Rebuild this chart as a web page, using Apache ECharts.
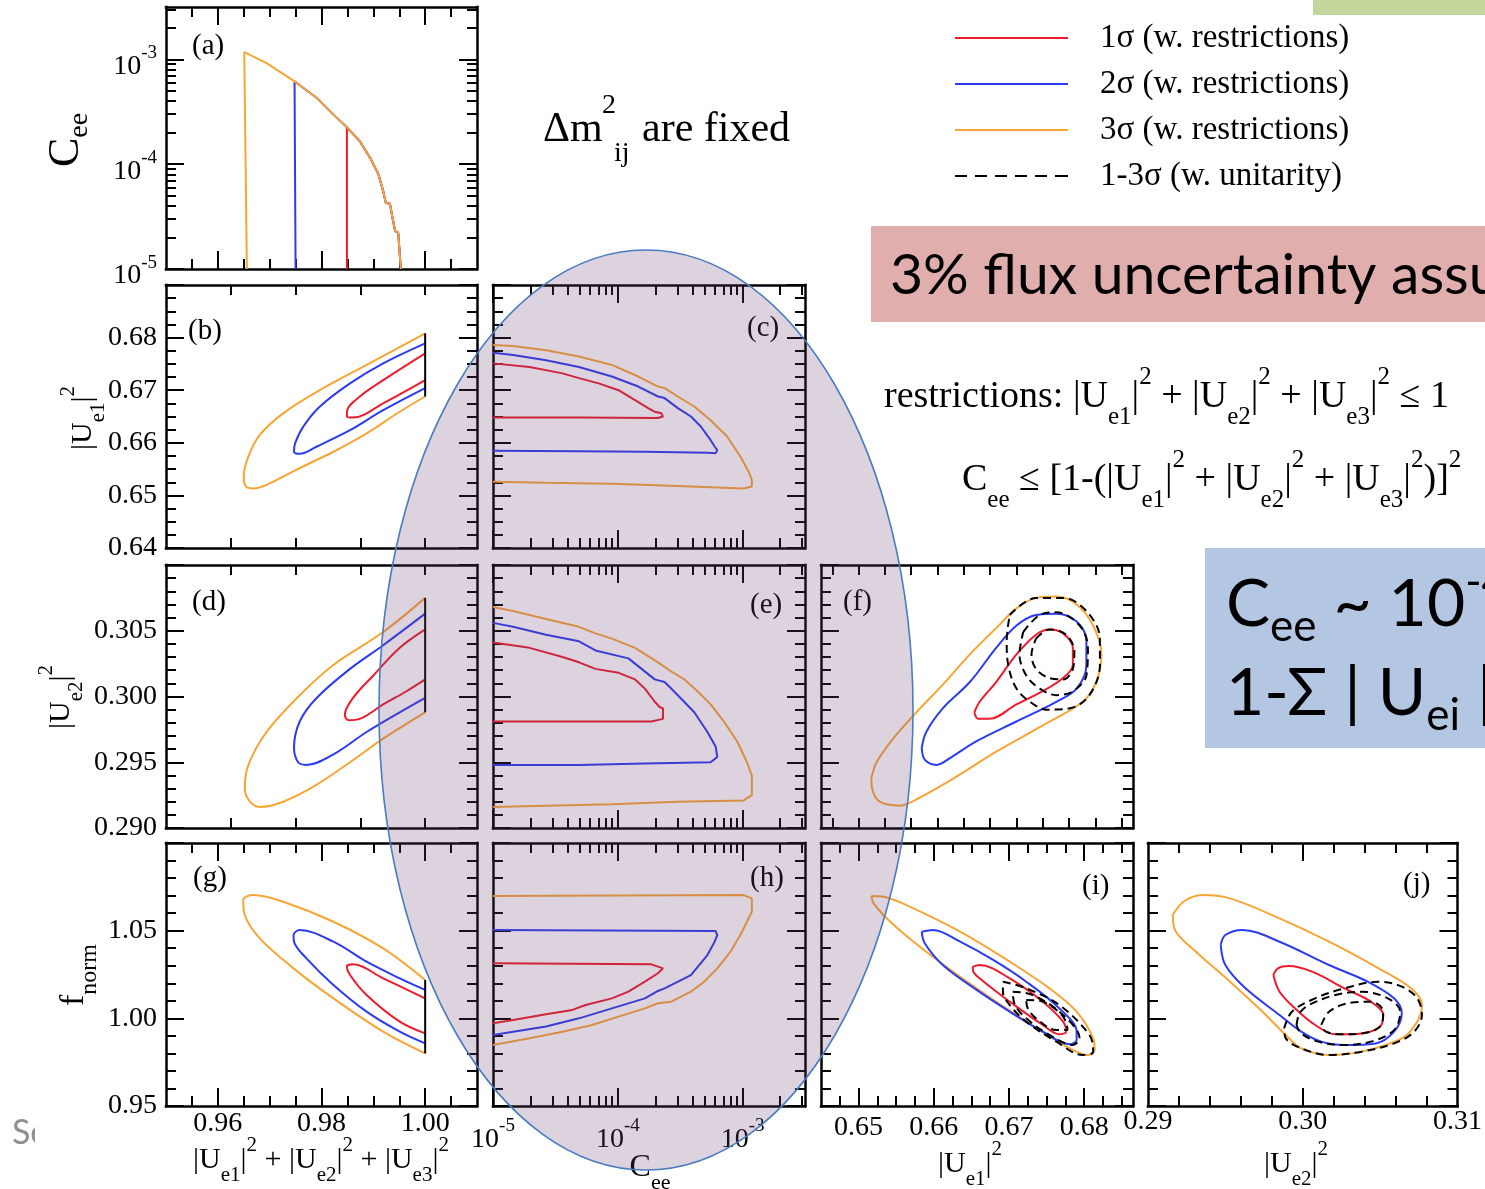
<!DOCTYPE html>
<html>
<head>
<meta charset="utf-8">
<script src="https://cdn.jsdelivr.net/npm/echarts@6/dist/echarts.min.js"></script>
<style>
  html, body { margin: 0; padding: 0; background: #ffffff; }
  #chart { width: 1485px; height: 1189px; }
</style>
</head>
<body>
<div id="chart"></div>
<script>
// ---------------------------------------------------------------------------
// Contour data. C_ee is stored as log10(C_ee); the C_ee axes are log scaled.
// ---------------------------------------------------------------------------

// (a) upper limit of C_ee versus |Ue1|^2+|Ue2|^2+|Ue3|^2
const a_orange = [[0.9656,-5.000],[0.9651,-2.930],[0.9694,-3.035],[0.9746,-3.203],[0.9791,-3.368],[0.9823,-3.527],[0.9849,-3.648],[0.9874,-3.781],[0.9894,-3.940],[0.9910,-4.098],[0.9919,-4.257],[0.9924,-4.369],[0.9932,-4.378],[0.9937,-4.511],[0.9942,-4.638],[0.9948,-4.654],[0.9951,-4.670],[0.9953,-5.000]];
const a_blue = [[0.9750,-5.000],[0.9748,-3.210],[0.9791,-3.368],[0.9823,-3.527],[0.9849,-3.648],[0.9874,-3.781],[0.9894,-3.940],[0.9910,-4.098],[0.9919,-4.257],[0.9924,-4.369],[0.9932,-4.378],[0.9937,-4.511],[0.9942,-4.638],[0.9948,-4.654],[0.9951,-4.670],[0.9953,-5.000]];
const a_red = [[0.9849,-5.000],[0.9849,-3.648],[0.9874,-3.781],[0.9894,-3.940],[0.9910,-4.098],[0.9919,-4.257],[0.9924,-4.369],[0.9932,-4.378],[0.9937,-4.511],[0.9942,-4.638],[0.9948,-4.654],[0.9951,-4.670],[0.9953,-5.000]];

// (b) |Ue1|^2 versus the row sum
const b_orange = [[1.000,0.6808],[0.9887,0.6748],[0.9791,0.6697],[0.9726,0.6656],[0.9681,0.6615],[0.9659,0.6574],[0.9650,0.6536],[0.9654,0.6517],[0.9668,0.6513],[0.9694,0.6520],[0.9758,0.6552],[0.9823,0.6583],[0.9887,0.6618],[0.9951,0.6659],[1.000,0.6688]];
const b_blue = [[1.000,0.6789],[0.9919,0.6751],[0.9855,0.6713],[0.9797,0.6669],[0.9765,0.6631],[0.9749,0.6599],[0.9747,0.6583],[0.9758,0.6579],[0.9791,0.6593],[0.9855,0.6624],[0.9919,0.6662],[1.000,0.6704]];
const b_red = [[1.000,0.6770],[0.9919,0.6719],[0.9874,0.6688],[0.9849,0.6659],[0.9849,0.6650],[0.9861,0.6648],[0.9919,0.6675],[1.000,0.6719]];
const b_edge = [[1.000,0.6688],[1.000,0.6808]];

// (c) |Ue1|^2 versus log10 C_ee
const c_orange = [[-5.0,0.6786],[-4.839,0.6784],[-4.575,0.6776],[-4.311,0.6764],[-4.047,0.6748],[-3.836,0.6726],[-3.678,0.6707],[-3.625,0.6704],[-3.519,0.6688],[-3.387,0.6669],[-3.256,0.6643],[-3.124,0.6612],[-3.018,0.6574],[-2.952,0.6545],[-2.926,0.6529],[-2.926,0.6517],[-2.992,0.6513],[-3.519,0.6518],[-4.047,0.6522],[-4.575,0.6524],[-5.0,0.6526]];
const c_blue = [[-5.0,0.6771],[-4.839,0.6767],[-4.575,0.6757],[-4.311,0.6744],[-4.047,0.6726],[-3.836,0.6707],[-3.678,0.6688],[-3.625,0.6685],[-3.519,0.6666],[-3.414,0.6650],[-3.335,0.6631],[-3.256,0.6605],[-3.224,0.6593],[-3.203,0.6586],[-3.216,0.6580],[-3.282,0.6581],[-3.783,0.6583],[-4.311,0.6584],[-5.0,0.6585]];
const c_red = [[-5.0,0.6751],[-4.707,0.6744],[-4.443,0.6732],[-4.311,0.6723],[-4.153,0.6713],[-3.994,0.6700],[-3.862,0.6681],[-3.757,0.6666],[-3.704,0.6659],[-3.651,0.6656],[-3.638,0.6650],[-3.678,0.6647],[-4.311,0.6648],[-5.0,0.6648]];

// (d) |Ue2|^2 versus the row sum
const d_orange = [[1.000,0.3075],[0.9919,0.3049],[0.9823,0.3024],[0.9758,0.3001],[0.9694,0.2973],[0.9659,0.2948],[0.9652,0.2930],[0.9662,0.2920],[0.9681,0.2916],[0.9726,0.2920],[0.9791,0.2933],[0.9855,0.2950],[0.9919,0.2968],[1.000,0.2988]];
const d_blue = [[1.000,0.3063],[0.9919,0.3039],[0.9855,0.3021],[0.9791,0.2999],[0.9758,0.2981],[0.9747,0.2961],[0.9755,0.2950],[0.9771,0.2948],[0.9823,0.2956],[0.9887,0.2973],[0.9951,0.2988],[1.000,0.2999]];
const d_red = [[1.000,0.3051],[0.9951,0.3037],[0.9900,0.3016],[0.9861,0.2999],[0.9845,0.2986],[0.9852,0.2982],[0.9874,0.2983],[0.9919,0.2994],[0.9964,0.3004],[1.000,0.3013]];
const d_edge = [[1.000,0.2988],[1.000,0.3075]];

// (e) |Ue2|^2 versus log10 C_ee
const e_orange = [[-5.0,0.3068],[-4.839,0.3065],[-4.575,0.3059],[-4.311,0.3053],[-4.179,0.3048],[-4.047,0.3044],[-3.862,0.3037],[-3.678,0.3026],[-3.572,0.3019],[-3.466,0.3013],[-3.361,0.3004],[-3.256,0.2994],[-3.150,0.2981],[-3.044,0.2966],[-2.965,0.2950],[-2.926,0.2940],[-2.926,0.2925],[-2.992,0.2921],[-3.519,0.2920],[-4.047,0.2918],[-4.575,0.2917],[-5.0,0.2916]];
const e_blue = [[-5.0,0.3056],[-4.839,0.3053],[-4.575,0.3047],[-4.311,0.3042],[-4.179,0.3035],[-3.915,0.3029],[-3.704,0.3013],[-3.625,0.3011],[-3.519,0.3001],[-3.387,0.2988],[-3.282,0.2973],[-3.216,0.2962],[-3.203,0.2954],[-3.256,0.2950],[-3.783,0.2949],[-4.311,0.2948],[-5.0,0.2948]];
const e_red = [[-5.0,0.3041],[-4.707,0.3037],[-4.443,0.3030],[-4.311,0.3026],[-4.179,0.3021],[-3.994,0.3018],[-3.862,0.3013],[-3.783,0.3006],[-3.704,0.2996],[-3.665,0.2992],[-3.638,0.2991],[-3.638,0.2983],[-3.731,0.2981],[-4.311,0.2981],[-5.0,0.2981]];

// (f) |Ue2|^2 versus |Ue1|^2
const f_orange = [[0.6517,0.2938],[0.6524,0.2950],[0.6546,0.2968],[0.6577,0.2988],[0.6612,0.3009],[0.6648,0.3032],[0.6683,0.3052],[0.6710,0.3067],[0.6736,0.3075],[0.6763,0.3076],[0.6790,0.3070],[0.6812,0.3054],[0.6823,0.3032],[0.6816,0.3011],[0.6798,0.2996],[0.6745,0.2978],[0.6683,0.2958],[0.6630,0.2939],[0.6581,0.2923],[0.6555,0.2917],[0.6528,0.2920],[0.6518,0.2930],[0.6517,0.2938]];
const f_blue = [[0.6584,0.2961],[0.6590,0.2973],[0.6612,0.2991],[0.6648,0.3011],[0.6683,0.3037],[0.6710,0.3054],[0.6736,0.3062],[0.6763,0.3063],[0.6790,0.3057],[0.6803,0.3042],[0.6803,0.3024],[0.6790,0.3006],[0.6763,0.2996],[0.6710,0.2981],[0.6657,0.2966],[0.6621,0.2953],[0.6604,0.2948],[0.6588,0.2952],[0.6584,0.2961]];
const f_red = [[0.6654,0.2988],[0.6661,0.2996],[0.6683,0.3011],[0.6710,0.3032],[0.6736,0.3047],[0.6754,0.3051],[0.6772,0.3048],[0.6785,0.3037],[0.6785,0.3024],[0.6772,0.3014],[0.6745,0.3004],[0.6710,0.2994],[0.6674,0.2983],[0.6659,0.2983],[0.6654,0.2988]];
const f_uni3 = [[0.6701,0.3062],[0.6736,0.3075],[0.6772,0.3075],[0.6803,0.3065],[0.6821,0.3044],[0.6821,0.3024],[0.6807,0.3001],[0.6781,0.2991],[0.6750,0.2990],[0.6728,0.2996],[0.6710,0.3006],[0.6699,0.3024],[0.6697,0.3042],[0.6701,0.3062]];
const f_uni2 = [[0.6719,0.3049],[0.6741,0.3062],[0.6763,0.3064],[0.6794,0.3054],[0.6805,0.3037],[0.6803,0.3016],[0.6785,0.3004],[0.6763,0.3001],[0.6741,0.3006],[0.6723,0.3016],[0.6714,0.3032],[0.6719,0.3049]];
const f_uni1 = [[0.6736,0.3044],[0.6754,0.3051],[0.6776,0.3047],[0.6787,0.3034],[0.6785,0.3021],[0.6772,0.3013],[0.6754,0.3014],[0.6736,0.3021],[0.6730,0.3032],[0.6736,0.3044]];

// (g) f_norm versus the row sum
const g_orange = [[1.000,1.0219],[0.9919,1.0399],[0.9823,1.0551],[0.9726,1.0665],[0.9668,1.0703],[0.9649,1.0675],[0.9652,1.0589],[0.9681,1.0456],[0.9746,1.0285],[0.9823,1.0114],[0.9919,0.9924],[1.000,0.9800]];
const g_blue = [[1.000,1.0162],[0.9951,1.0228],[0.9887,1.0323],[0.9823,1.0437],[0.9758,1.0504],[0.9746,1.0475],[0.9747,1.0437],[0.9771,1.0342],[0.9823,1.0190],[0.9887,1.0038],[0.9951,0.9924],[1.000,0.9857]];
const g_red = [[1.000,1.0114],[0.9919,1.0228],[0.9861,1.0308],[0.9849,1.0295],[0.9855,1.0247],[0.9887,1.0133],[0.9951,0.9981],[1.000,0.9914]];
const g_edge = [[1.000,0.9800],[1.000,1.0219]];

// (h) f_norm versus log10 C_ee
const h_orange = [[-5.0,1.0698],[-2.992,1.0703],[-2.926,1.0684],[-2.926,1.0608],[-2.965,1.0551],[-3.018,1.0475],[-3.097,1.0380],[-3.203,1.0285],[-3.308,1.0209],[-3.414,1.0152],[-3.572,1.0095],[-3.678,1.0086],[-3.783,1.0057],[-3.994,1.0010],[-4.206,0.9962],[-4.443,0.9924],[-4.707,0.9886],[-5.0,0.9848]];
const h_blue = [[-5.0,1.0504],[-3.216,1.0498],[-3.203,1.0475],[-3.224,1.0437],[-3.282,1.0361],[-3.414,1.0247],[-3.625,1.0171],[-3.678,1.0156],[-3.783,1.0114],[-4.047,1.0057],[-4.311,1.0000],[-4.575,0.9953],[-5.0,0.9905]];
const h_red = [[-5.0,1.0314],[-3.731,1.0308],[-3.638,1.0285],[-3.678,1.0257],[-3.783,1.0209],[-3.915,1.0152],[-4.047,1.0114],[-4.258,1.0076],[-4.364,1.0048],[-4.575,1.0023],[-4.839,0.9990],[-5.0,0.9972]];

// (i) f_norm versus |Ue1|^2
const i_orange = [[0.6517,1.0698],[0.6533,1.0694],[0.6568,1.0637],[0.6635,1.0494],[0.6701,1.0323],[0.6754,1.0171],[0.6790,1.0038],[0.6812,0.9886],[0.6814,0.9819],[0.6805,0.9791],[0.6781,0.9829],[0.6723,0.9981],[0.6657,1.0171],[0.6590,1.0380],[0.6542,1.0551],[0.6520,1.0656],[0.6517,1.0698]];
const i_blue = [[0.6584,1.0494],[0.6599,1.0504],[0.6635,1.0437],[0.6679,1.0333],[0.6723,1.0209],[0.6767,1.0057],[0.6790,0.9924],[0.6790,0.9876],[0.6781,0.9852],[0.6745,0.9924],[0.6701,1.0038],[0.6657,1.0162],[0.6612,1.0304],[0.6588,1.0428],[0.6584,1.0494]];
const i_red = [[0.6652,1.0295],[0.6661,1.0304],[0.6701,1.0228],[0.6745,1.0095],[0.6772,0.9981],[0.6776,0.9924],[0.6767,0.9909],[0.6745,0.9962],[0.6701,1.0095],[0.6661,1.0228],[0.6652,1.0276],[0.6652,1.0295]];
const i_uni3 = [[0.6692,1.0209],[0.6723,1.0171],[0.6767,1.0076],[0.6807,0.9905],[0.6812,0.9810],[0.6798,0.9791],[0.6763,0.9867],[0.6723,0.9981],[0.6701,1.0076],[0.6692,1.0152],[0.6692,1.0209]];
const i_uni2 = [[0.6705,1.0152],[0.6732,1.0133],[0.6772,1.0019],[0.6794,0.9886],[0.6785,0.9848],[0.6754,0.9905],[0.6723,1.0000],[0.6708,1.0076],[0.6705,1.0152]];
const i_uni1 = [[0.6723,1.0105],[0.6745,1.0095],[0.6772,1.0010],[0.6778,0.9933],[0.6763,0.9933],[0.6736,1.0000],[0.6725,1.0057],[0.6723,1.0105]];

// (j) f_norm versus |Ue2|^2
const j_orange = [[0.2916,1.0589],[0.2923,1.0665],[0.2935,1.0703],[0.2953,1.0684],[0.2985,1.0570],[0.3017,1.0437],[0.3049,1.0285],[0.3070,1.0171],[0.3077,1.0076],[0.3074,0.9981],[0.3064,0.9886],[0.3038,0.9810],[0.3017,0.9791],[0.2999,0.9829],[0.2989,0.9905],[0.2974,1.0038],[0.2953,1.0209],[0.2931,1.0380],[0.2918,1.0494],[0.2916,1.0589]];
const j_blue = [[0.2947,1.0418],[0.2950,1.0475],[0.2961,1.0504],[0.2985,1.0437],[0.3017,1.0304],[0.3042,1.0209],[0.3059,1.0114],[0.3064,1.0029],[0.3059,0.9924],[0.3047,0.9857],[0.3027,0.9848],[0.3012,0.9867],[0.2999,0.9924],[0.2985,1.0019],[0.2963,1.0171],[0.2950,1.0304],[0.2947,1.0418]];
const j_red = [[0.2981,1.0247],[0.2984,1.0285],[0.2991,1.0298],[0.3006,1.0266],[0.3027,1.0171],[0.3044,1.0095],[0.3052,1.0019],[0.3050,0.9953],[0.3038,0.9914],[0.3021,0.9909],[0.3008,0.9962],[0.2995,1.0057],[0.2985,1.0152],[0.2981,1.0247]];
const j_uni3 = [[0.2988,0.9943],[0.2993,1.0038],[0.3008,1.0114],[0.3027,1.0171],[0.3049,1.0209],[0.3064,1.0181],[0.3074,1.0114],[0.3077,1.0019],[0.3072,0.9924],[0.3059,0.9857],[0.3038,0.9810],[0.3017,0.9791],[0.2999,0.9829],[0.2989,0.9886],[0.2988,0.9943]];
const j_uni2 = [[0.2996,0.9962],[0.2998,1.0030],[0.3004,1.0076],[0.3021,1.0133],[0.3038,1.0152],[0.3055,1.0114],[0.3063,1.0038],[0.3059,0.9933],[0.3044,0.9867],[0.3025,0.9848],[0.3010,0.9867],[0.2999,0.9914],[0.2996,0.9962]];
const j_uni1 = [[0.3012,0.9962],[0.3017,1.0038],[0.3029,1.0086],[0.3044,1.0095],[0.3052,1.0038],[0.3050,0.9953],[0.3038,0.9914],[0.3025,0.9909],[0.3015,0.9924],[0.3012,0.9962]];

// Tick labels
const sumTicks = [0.96, 0.98, 1.00];
const ceeExpTicks = [-5, -4, -3];
const ue1TicksY = [0.64, 0.65, 0.66, 0.67, 0.68];
const ue1TicksX = [0.65, 0.66, 0.67, 0.68];
const ue2TicksY = [0.290, 0.295, 0.300, 0.305];
const ue2TicksX = [0.29, 0.30, 0.31];
const fnormTicks = [0.95, 1.00, 1.05];

// Legend names
const N1 = '1σ (w. restrictions)';
const N2 = '2σ (w. restrictions)';
const N3 = '3σ (w. restrictions)';
const NU = '1-3σ (w. unitarity)';

// ---------------------------------------------------------------------------
const SERIF = '"Liberation Serif","Times New Roman",serif';
const SANS = 'Lato,"Open Sans",sans-serif';
const RED = '#ec1c2c', BLUE = '#2b3bef', ORANGE = '#f7a535', BLACK = '#000000';

function steps(a, b, s) { const out = []; for (let v = a; v <= b + 1e-9; v += s) out.push(+v.toFixed(6)); return out; }
function without(list, skip) { return list.filter(v => !skip.some(s => Math.abs(s - v) < 1e-7)); }
const logMinor = [];
for (let e = -5; e <= -3; e++) for (let k = 2; k <= 9; k++) { const v = e + Math.log10(k); if (v < -2.5) logMinor.push(v); }

const f2 = v => v.toFixed(2), f3 = v => v.toFixed(3);
const pow10 = v => '{b|10}{s|' + v + '}';
const powRich = {
  b: { fontFamily: SERIF, fontSize: 28, lineHeight: 45, verticalAlign: 'middle', color: '#000' },
  s: { fontFamily: SERIF, fontSize: 19, lineHeight: 19, verticalAlign: 'top', color: '#000' }
};

const AX = {
  sumA: { min: 0.95, max: 1.01, major: [0.96, 0.98, 1.00], minor: without(steps(0.955, 1.005, 0.005), [0.96, 0.98, 1.0]), labels: sumTicks, fmt: f2 },
  sumB: { min: 0.95, max: 1.01, major: [], minor: [0.9625, 0.975, 0.9875, 1.0] },
  cee: { min: -5, max: -2.5, major: [-5, -4, -3], minor: logMinor, labels: ceeExpTicks, fmt: pow10 },
  ue1y: { min: 0.64, max: 0.69, major: [0.64, 0.65, 0.66, 0.67, 0.68, 0.69], minor: without(steps(0.6425, 0.6875, 0.0025), [0.65, 0.66, 0.67, 0.68]), labels: ue1TicksY, fmt: f2 },
  ue1xF: { min: 0.645, max: 0.6865, major: [], minor: steps(0.6465, 0.6850, 0.0035) },
  ue1xI: { min: 0.645, max: 0.6865, major: [0.65, 0.66, 0.67, 0.68], minor: without(steps(0.6475, 0.685, 0.0025), [0.65, 0.66, 0.67, 0.68]), labels: ue1TicksX, fmt: f2 },
  ue2y: { min: 0.29, max: 0.31, major: [0.29, 0.295, 0.30, 0.305, 0.31], minor: without(steps(0.291, 0.309, 0.001), [0.295, 0.30, 0.305]), labels: ue2TicksY, fmt: f3 },
  ue2x: { min: 0.29, max: 0.31, major: [0.30], minor: without(steps(0.292, 0.308, 0.002), [0.30]), labels: ue2TicksX, fmt: f2 },
  fn: { min: 0.95, max: 1.10, major: [0.95, 1.00, 1.05, 1.10], minor: without(steps(0.96, 1.09, 0.01), [1.0, 1.05]), labels: fnormTicks, fmt: f2 }
};

// One entry per panel: frame rectangle, axes, which axes carry labels, curves.
// 'round' marks the closed, ellipse-like contours that are drawn smoothed.
const PANELS = [
  { rect: [166, 7, 311, 262], x: AX.sumA, y: AX.cee, ly: { margin: 9, padding: [14, 0, 0, 0], rich: powRich },
    curves: [[a_red, N1, RED], [a_blue, N2, BLUE], [a_orange, N3, ORANGE]] },
  { rect: [166, 285, 311, 263], x: AX.sumB, y: AX.ue1y, ly: { margin: 9 }, round: true,
    curves: [[b_orange, N3, ORANGE], [b_blue, N2, BLUE], [b_red, N1, RED], [b_edge, 'edge', BLACK]] },
  { rect: [493, 285, 312, 263], x: AX.cee, y: AX.ue1y,
    curves: [[c_orange, N3, ORANGE], [c_blue, N2, BLUE], [c_red, N1, RED]] },
  { rect: [166, 565, 311, 263], x: AX.sumB, y: AX.ue2y, ly: { margin: 9 }, round: true,
    curves: [[d_orange, N3, ORANGE], [d_blue, N2, BLUE], [d_red, N1, RED], [d_edge, 'edge', BLACK]] },
  { rect: [493, 565, 312, 263], x: AX.cee, y: AX.ue2y,
    curves: [[e_orange, N3, ORANGE], [e_blue, N2, BLUE], [e_red, N1, RED]] },
  { rect: [821, 565, 312, 263], x: AX.ue1xF, y: AX.ue2y, round: true,
    curves: [[f_orange, N3, ORANGE], [f_blue, N2, BLUE], [f_red, N1, RED], [f_uni3, NU, BLACK, true], [f_uni2, NU, BLACK, true], [f_uni1, NU, BLACK, true]] },
  { rect: [166, 843, 311, 263], x: AX.sumA, y: AX.fn, lx: { margin: 4 }, ly: { margin: 9 }, round: true,
    curves: [[g_orange, N3, ORANGE], [g_blue, N2, BLUE], [g_red, N1, RED], [g_edge, 'edge', BLACK]] },
  { rect: [493, 843, 312, 263], x: AX.cee, y: AX.fn, lx: { margin: 11, rich: powRich },
    curves: [[h_orange, N3, ORANGE], [h_blue, N2, BLUE], [h_red, N1, RED]] },
  { rect: [821, 843, 312, 263], x: AX.ue1xI, y: AX.fn, lx: { margin: 8 }, round: true,
    curves: [[i_orange, N3, ORANGE], [i_blue, N2, BLUE], [i_red, N1, RED], [i_uni3, NU, BLACK, true], [i_uni2, NU, BLACK, true], [i_uni1, NU, BLACK, true]] },
  { rect: [1148, 843, 312, 263], x: AX.ue2x, y: AX.fn, lx: { margin: 2 }, round: true,
    curves: [[j_orange, N3, ORANGE], [j_blue, N2, BLUE], [j_red, N1, RED], [j_uni3, NU, BLACK, true], [j_uni2, NU, BLACK, true], [j_uni1, NU, BLACK, true]] }
];

// Framed major axis (with labels) plus a minor-tick axis, on both sides.
function sideAxes(gi, spec, isX, labelOpt) {
  const out = [];
  (isX ? ['bottom', 'top'] : ['left', 'right']).forEach((pos, k) => {
    const base = { type: 'value', gridIndex: gi, position: pos, min: spec.min, max: spec.max,
      splitLine: { show: false }, splitArea: { show: false }, silent: true };
    out.push(Object.assign({}, base, {
      axisLine: { show: true, onZero: false, lineStyle: { color: '#000', width: 2.5, cap: 'square' } },
      axisTick: { show: spec.major.length > 0, inside: true, length: 18, customValues: spec.major, lineStyle: { color: '#000', width: 2 } },
      axisLabel: (k === 0 && labelOpt) ? Object.assign({ show: true, customValues: spec.labels, formatter: spec.fmt,
        fontFamily: SERIF, fontSize: 28, color: '#000' }, labelOpt) : { show: false }
    }));
    out.push(Object.assign({}, base, {
      axisLine: { show: false, onZero: false },
      axisTick: { show: true, inside: true, length: 10, customValues: spec.minor, lineStyle: { color: '#000', width: 2 } },
      axisLabel: { show: false }
    }));
  });
  return out;
}

const grid = [], xAxis = [], yAxis = [], series = [];
PANELS.forEach((p, gi) => {
  grid.push({ left: p.rect[0], top: p.rect[1], width: p.rect[2], height: p.rect[3], containLabel: false, show: false });
  const xi = xAxis.length, yi = yAxis.length;
  xAxis.push(...sideAxes(gi, p.x, true, p.lx));
  yAxis.push(...sideAxes(gi, p.y, false, p.ly));
  p.curves.forEach(([data, name, color, dashed]) => {
    series.push({
      type: 'line', name, data, xAxisIndex: xi, yAxisIndex: yi,
      symbol: 'none', showSymbol: false, silent: true, color,
      itemStyle: { color },
      smooth: (p.round && name !== 'edge') ? 0.35 : false,
      lineStyle: { color, width: 2, type: dashed ? [8, 5] : 'solid' },
      z: dashed ? 4 : (name === 'edge' ? 5 : 3)
    });
  });
});

// ---------------------------------------------------------------------------
// Rich-text helper for formulae: m = main, sp = superscript, sb = subscript.
function mathRich(family, size, small, up) {
  const H = small + 2 * up;
  return {
    m: { fontFamily: family, fontSize: size, lineHeight: H, verticalAlign: 'middle', fill: '#000' },
    sp: { fontFamily: family, fontSize: small, lineHeight: small, verticalAlign: 'top', fill: '#000' },
    sb: { fontFamily: family, fontSize: small, lineHeight: small, verticalAlign: 'bottom', fill: '#000' }
  };
}
function mathText(x, y, text, rich, align, rotation) {
  return { type: 'text', x, y, rotation: rotation || 0, silent: true, z: 20,
    style: { text, rich, fill: '#000', align: align || 'center', textAlign: align || 'center', verticalAlign: 'middle', textVerticalAlign: 'middle' } };
}
function plainText(x, y, text, font, fill, align) {
  return { type: 'text', x, y, silent: true, z: 20,
    style: { text, font, fill: fill || '#000', align: align || 'left', textAlign: align || 'left', verticalAlign: 'middle', textVerticalAlign: 'middle' } };
}

const ue = k => '{m||U}{sb|e' + k + '}{m||}{sp|2}';
const rowSum = ue(1) + '{m| + }' + ue(2) + '{m| + }' + ue(3);
const R_axis = mathRich(SERIF, 30, 21, 15);
const R_cee = mathRich(SERIF, 32, 22, 15);
const R_ceeBig = mathRich(SERIF, 44, 28, 14);
const R_fn = mathRich(SERIF, 34, 24, 16);
const R_note = mathRich(SERIF, 38, 25, 20);
const R_box = mathRich(SANS, 66, 44, 22);
const ROT = Math.PI / 2;

const panelTags = [['(a)', 192, 46], ['(b)', 188, 331], ['(c)', 747, 328], ['(d)', 192, 602], ['(e)', 750, 605],
  ['(f)', 843, 602], ['(g)', 193, 878], ['(h)', 750, 878], ['(i)', 1082, 886], ['(j)', 1403, 884]];

const graphics = [
  // coloured boxes of the slide
  { type: 'rect', silent: true, z: 1, shape: { x: 1313, y: 0, width: 172, height: 15 }, style: { fill: '#c3d69b' } },
  { type: 'rect', silent: true, z: 1, shape: { x: 871, y: 226, width: 614, height: 96 }, style: { fill: '#e0afad' } },
  plainText(890, 276, '3% flux uncertainty assumed', '57px ' + SANS),
  { type: 'rect', silent: true, z: 1, shape: { x: 1205, y: 548, width: 280, height: 200 }, style: { fill: '#b4c7e2' } },
  mathText(1226, 605, '{m|C}{sb|ee}{m| ~ 10}{sp|-4}', R_box, 'left'),
  mathText(1226, 694, '{m|1-Σ | U}{sb|ei}{m| |}{sp|2}', R_box, 'left'),
  // left margin remnant
  plainText(12, 1133, 'Se', '34px ' + SANS, '#8f8f8f'),
  { type: 'rect', silent: true, z: 21, shape: { x: 35, y: 1112, width: 70, height: 45 }, style: { fill: '#ffffff' } },
  // headline
  plainText(543, 130, 'Δm', '42px ' + SERIF),
  plainText(602, 106, '2', '28px ' + SERIF),
  plainText(614, 154, 'ij', '28px ' + SERIF),
  plainText(642, 130, 'are fixed', '42px ' + SERIF),
  // restrictions
  mathText(884, 397, '{m|restrictions: }' + rowSum + '{m| ≤ 1}', R_note, 'left'),
  mathText(962, 480, '{m|C}{sb|ee}{m| ≤ [1-(}' + rowSum + '{m|)]}{sp|2}', R_note, 'left'),
  // axis titles
  mathText(321, 1160, rowSum, R_axis),
  mathText(650, 1168, '{m|C}{sb|ee}', R_cee),
  mathText(970, 1164, ue(1), R_axis),
  mathText(1296, 1164, ue(2), R_axis),
  mathText(66, 140, '{m|C}{sb|ee}', R_ceeBig, 'center', ROT),
  mathText(83, 418, ue(1), R_axis, 'center', ROT),
  mathText(61, 697, ue(2), R_axis, 'center', ROT),
  mathText(74, 975, '{m|f}{sb|norm}', R_fn, 'center', ROT),
  // highlighted region
  { type: 'ellipse', silent: true, z: 100, shape: { cx: 646, cy: 710, rx: 267, ry: 460 },
    style: { fill: 'rgba(110,70,120,0.235)', stroke: '#4a7cc0', lineWidth: 1.6 } }
];
panelTags.forEach(([t, x, y]) => graphics.push(plainText(x, y, t, '29px ' + SERIF)));

// legend icons: a thin bar, and six dashes for the unitarity curves
const DASH_ICON = 'path://M0,0h12v2h-12z M20,0h12v2h-12z M40,0h12v2h-12z M60,0h12v2h-12z M80,0h12v2h-12z M100,0h13v2h-13z';

const chart = echarts.init(document.getElementById('chart'), null, { renderer: 'canvas' });
chart.setOption({
  animation: false,
  backgroundColor: '#ffffff',
  grid, xAxis, yAxis, series,
  legend: {
    orient: 'vertical', left: 955, top: 21, padding: 0, selectedMode: false,
    itemWidth: 113, itemHeight: 2, itemGap: 12,
    textStyle: { fontFamily: SERIF, fontSize: 33, color: '#000', lineHeight: 34, padding: [0, 0, 0, 27] },
    data: [
      { name: N1, icon: 'rect' },
      { name: N2, icon: 'rect' },
      { name: N3, icon: 'rect' },
      { name: NU, icon: DASH_ICON, itemStyle: { color: '#000', opacity: 1, borderWidth: 0 } }
    ]
  },
  graphic: { elements: graphics }
});
</script>
</body>
</html>
